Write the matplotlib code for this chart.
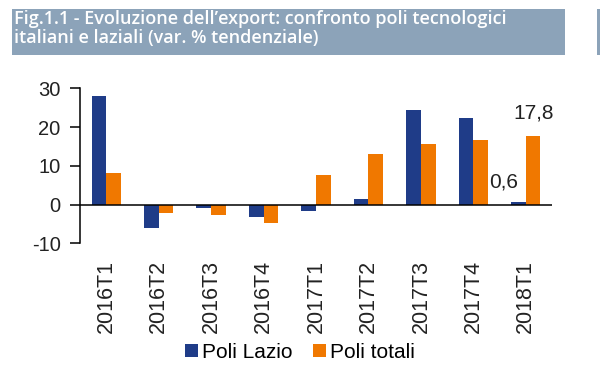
import matplotlib
matplotlib.use('Agg')
import numpy as np
import matplotlib.pyplot as plt
from matplotlib.patches import Rectangle

# Data (var. % tendenziale)
periods = ['2016T1', '2016T2', '2016T3', '2016T4', '2017T1',
           '2017T2', '2017T3', '2017T4', '2018T1']
poli_lazio = [28.1, -6.1, -0.8, -3.1, -1.6, 1.5, 24.3, 22.3, 0.6]
poli_totali = [8.1, -2.1, -2.6, -4.8, 7.7, 13.0, 15.6, 16.7, 17.8]

colors = {
    'lazio': '#1f3c88',
    'totali': '#f07800',
    'banner': '#8ca3b9',
}

plt.rcParams['font.family'] = ['Liberation Sans', 'DejaVu Sans']
plt.rcParams['axes.unicode_minus'] = False

fig = plt.figure(figsize=(6.0, 3.78), dpi=100)

# Title banner
fig.add_artist(Rectangle((11.5 / 600, 1 - 55 / 378), (565 - 11.5) / 600, 46 / 378,
                         transform=fig.transFigure, facecolor=colors['banner'],
                         edgecolor='none'))
fig.add_artist(Rectangle((597 / 600, 1 - 55 / 378), 3 / 600, 46 / 378,
                         transform=fig.transFigure, facecolor=colors['banner'],
                         edgecolor='none'))
fig.text(14 / 600, 1 - 10 / 378,
         "Fig.1.1 - Evoluzione dell\u2019export: confronto poli tecnologici\n"
         "italiani e laziali (var. % tendenziale)",
         color='white', fontsize=13, fontweight='semibold', family='Open Sans',
         va='top', ha='left', linespacing=1.1)

ax = fig.add_axes([80 / 600, 1 - 243.3 / 378, 472 / 600, 155 / 378])

x = np.arange(len(periods))
w = 0.28
ax.bar(x - w, poli_lazio, width=w, align='edge', color=colors['lazio'],
       label='Poli Lazio')
ax.bar(x, poli_totali, width=w, align='edge', color=colors['totali'],
       label='Poli totali')

ax.axhline(0, color='black', linewidth=1.1, zorder=3)

# Value labels on the last period
ax.text(x[-1] - 0.42, poli_lazio[-1] + 5.3, f'{poli_lazio[-1]:.1f}'.replace('.', ','),
        ha='center', va='center', fontsize=15, color='#222222')
ax.text(x[-1] + 0.15, poli_totali[-1] + 5.7, f'{poli_totali[-1]:.1f}'.replace('.', ','),
        ha='center', va='center', fontsize=15, color='#222222')

ax.set_xlim(-0.5, len(periods) - 0.5)
ax.set_ylim(-10, 30)
ax.set_yticks([-10, 0, 10, 20, 30])
ax.set_xticks(x)
ax.set_xticklabels(periods, rotation=90, fontsize=15.5, va='top', ha='center')

for side in ['top', 'right', 'bottom']:
    ax.spines[side].set_visible(False)
ax.spines['left'].set_linewidth(1.1)
ax.tick_params(axis='y', direction='out', length=7, width=1.1, labelsize=14.5, pad=7,
               labelcolor='#222222')
ax.tick_params(axis='x', length=0, pad=12, labelcolor='#222222')

fig.legend(loc='center', bbox_to_anchor=(0.5, 1 - 352 / 378), ncol=2, frameon=False,
           fontsize=15, handlelength=0.6, handleheight=0.6, handletextpad=0.2,
           columnspacing=1.0, borderpad=0)

fig.savefig('out.png', dpi=100, facecolor='white')
